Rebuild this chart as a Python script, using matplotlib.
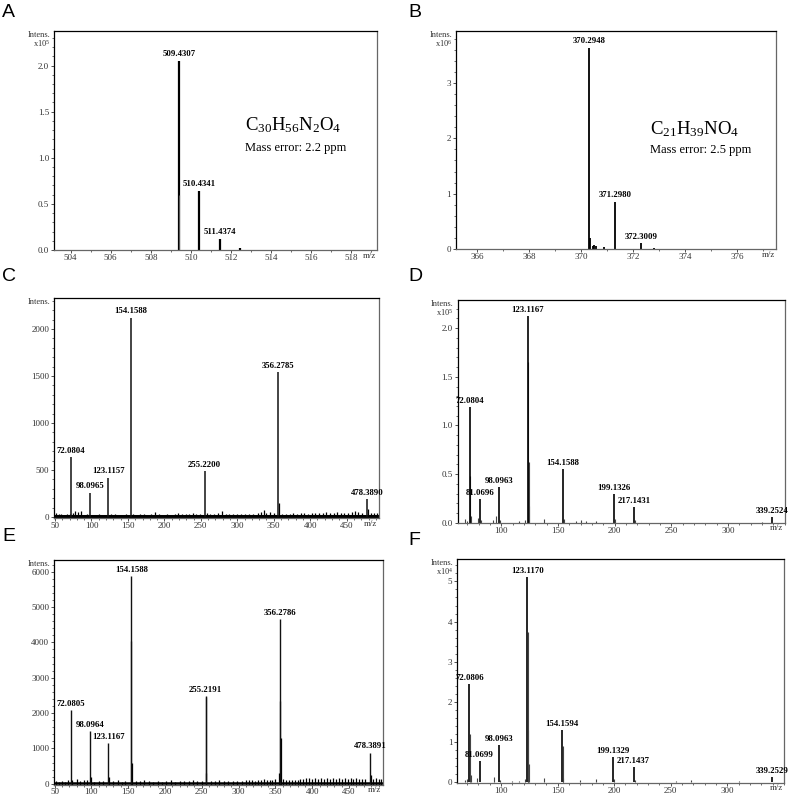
import numpy as np
import matplotlib
matplotlib.use("Agg")
from matplotlib import pyplot as plt
from matplotlib.ticker import MultipleLocator, FormatStrFormatter

plt.rcParams['font.family'] = ['Liberation Serif', 'DejaVu Serif']
plt.rcParams['mathtext.fontset'] = 'custom'
plt.rcParams['mathtext.rm'] = 'Liberation Serif'
plt.rcParams['mathtext.it'] = 'Liberation Serif:italic'
plt.rcParams['mathtext.bf'] = 'Liberation Serif:bold'

# ---- panel A : full MS, x10^5
a_mz = [509.4307, 509.40, 510.4341, 511.4374, 512.44]
a_int = [2.05, 0.60, 0.64, 0.12, 0.02]
a_lab = ["509.4307", "", "510.4341", "511.4374", ""]

# ---- panel B : full MS, x10^6
b_mz = [370.2948, 370.33, 370.45, 370.50, 370.58, 370.90, 371.2980, 372.3009, 372.80]
b_int = [3.64, 0.20, 0.06, 0.07, 0.05, 0.03, 0.85, 0.10, 0.01]
b_lab = ["370.2948", "", "", "", "", "", "371.2980", "372.3009", ""]

# ---- panel C : MS/MS
c_mz = [72.0804, 98.0965, 123.1157, 154.1588, 255.2200, 356.2785, 478.3890]
c_int = [640, 260, 420, 2120, 490, 1540, 190]
c_lab = ["72.0804", "98.0965", "123.1157", "154.1588", "255.2200", "356.2785", "478.3890"]
c_noise_mz = [52, 55, 58, 62, 66, 70, 75, 78, 82, 86, 90, 94, 102, 106, 110, 114, 118, 127,
              132, 137, 143, 148, 157, 162, 167, 172, 176, 181, 187, 192, 197, 204, 209, 214,
              219, 224, 229, 234, 239, 244, 249, 258, 263, 268, 273, 279, 284, 289, 294, 300,
              305, 310, 316, 322, 328, 332, 336, 340, 345, 350, 357.3, 362, 367, 372, 377, 382,
              387, 392, 397, 402, 407, 412, 417, 422, 427, 432, 437, 442, 447, 452, 457, 461,
              466, 471, 479.4, 483, 487, 491]
c_noise_int = [40, 30, 35, 25, 30, 35, 45, 60, 55, 65, 20, 30, 25, 20, 30, 25, 20, 35,
               30, 25, 20, 30, 35, 25, 30, 35, 25, 30, 55, 35, 25, 30, 25, 35,
               45, 30, 35, 30, 40, 35, 30, 40, 30, 35, 40, 60, 35, 30, 35, 30,
               35, 30, 35, 30, 40, 50, 75, 40, 55, 40, 150, 35, 30, 35, 40, 35,
               45, 40, 35, 45, 40, 45, 40, 50, 45, 40, 50, 45, 40, 45, 55, 60,
               50, 45, 90, 45, 40, 45]

# ---- panel D : MS/MS, x10^5
d_mz = [72.0804, 81.0696, 98.0963, 123.1167, 154.1588, 199.1326, 217.1431, 339.2524]
d_int = [1.19, 0.24, 0.364, 2.13, 0.55, 0.30, 0.16, 0.06]
d_lab = ["72.0804", "81.0696", "98.0963", "123.1167", "154.1588", "199.1326", "217.1431", "339.2524"]
d_minor_mz = [68, 70, 72.5, 73.5, 79, 82, 93, 95, 99, 116, 121, 123.5, 124.0, 124.6,
              138, 155, 166, 170, 175, 184, 200, 218, 330]
d_minor_int = [0.04, 0.02, 0.48, 0.07, 0.05, 0.03, 0.03, 0.07, 0.03, 0.02, 0.03, 1.65, 0.62, 0.17,
               0.04, 0.04, 0.02, 0.03, 0.02, 0.02, 0.04, 0.03, 0.01]

# ---- panel E : MS/MS
e_mz = [72.0805, 98.0964, 123.1167, 154.1588, 255.2191, 356.2786, 478.3891]
e_int = [2090, 1500, 1150, 5885, 2470, 4660, 885]
e_lab = ["72.0805", "98.0964", "123.1167", "154.1588", "255.2191", "356.2786", "478.3891"]
e_noise_mz = [52, 56, 60, 64, 68, 74, 80, 84, 90, 94, 99.1, 104, 110, 116, 124.1, 130, 136,
              142, 146, 154.5, 155.2, 160, 166, 172, 178, 184, 190, 196, 202, 208, 214, 220,
              226, 232, 238, 244, 250, 255.6, 256.2, 262, 268, 274, 280, 286, 292, 298, 304,
              310, 314, 318, 322, 326, 330, 334, 338, 342, 346, 350, 354.5, 356.7, 357.3,
              360, 364, 368, 372, 376, 380, 384, 388, 392, 396, 400, 404, 408, 412, 416, 420,
              424, 428, 432, 436, 440, 444, 448, 452, 456, 460, 464, 468, 472, 479.4, 482,
              486, 490, 494]
e_noise_int = [80, 60, 90, 50, 100, 120, 130, 80, 100, 120, 200, 60, 80, 90, 200, 70, 100,
               60, 80, 4050, 600, 70, 90, 100, 70, 60, 80, 60, 70, 100, 60, 80,
               90, 80, 100, 90, 70, 2450, 300, 80, 90, 100, 70, 80, 90, 70, 80,
               120, 110, 100, 90, 120, 100, 130, 110, 120, 100, 130, 300, 2350, 1300,
               130, 120, 110, 120, 110, 120, 130, 140, 150, 150, 140, 150, 140, 150, 140, 150,
               140, 150, 140, 150, 140, 150, 140, 150, 140, 150, 140, 130, 140, 250, 140,
               150, 140, 130]

# ---- panel F : MS/MS, x10^4
f_mz = [72.0806, 81.0699, 98.0963, 123.1170, 154.1594, 199.1329, 217.1437, 339.2529]
f_int = [2.44, 0.52, 0.94, 5.11, 1.31, 0.62, 0.38, 0.14]
f_lab = ["72.0806", "81.0699", "98.0963", "123.1170", "154.1594", "199.1329", "217.1437", "339.2529"]
f_minor_mz = [68, 70, 72.5, 73.5, 79, 94, 99, 110, 116, 121, 123.5, 124.0, 124.6, 138,
              154.5, 155, 170, 184, 200, 218, 255, 268, 310]
f_minor_int = [0.05, 0.08, 1.2, 0.18, 0.10, 0.12, 0.05, 0.03, 0.04, 0.08, 3.75, 1.3, 0.45, 0.10,
               0.9, 0.10, 0.05, 0.08, 0.08, 0.05, 0.03, 0.05, 0.03]

fig = plt.figure(figsize=(7.89, 7.95), dpi=100)
W, H = 789.0, 795.0


def add_ax(l, t, r, b):
    return fig.add_axes([l / W, 1 - b / H, (r - l) / W, (b - t) / H])


def style(ax, xlim, ylim, xmaj, xmin, ymaj, ymin, yfmt, mult=None):
    ax.set_xlim(*xlim)
    ax.set_ylim(*ylim)
    ax.xaxis.set_minor_locator(MultipleLocator(xmin))
    ax.yaxis.set_major_locator(MultipleLocator(ymaj))
    ax.yaxis.set_minor_locator(MultipleLocator(ymin))
    ax.yaxis.set_major_formatter(FormatStrFormatter(yfmt))
    ax.tick_params(which='major', length=2.5, width=0.6, labelsize=6.5, colors='#333333')
    ax.tick_params(which='minor', length=1.3, width=0.5, colors='#333333')
    ax.tick_params(axis='x', which='major', pad=0.3)
    ax.tick_params(axis='y', which='major', pad=1.0)
    ax.spines['top'].set_color('black')
    ax.spines['left'].set_color('black')
    ax.spines['right'].set_color('#666666')
    ax.spines['bottom'].set_color('#666666')
    for s in ax.spines.values():
        s.set_linewidth(0.9)
    # leave room at the right end for the m/z label
    lo, hi = xlim
    ticks = [t for t in np.arange(np.ceil(lo / xmaj) * xmaj, hi, xmaj) if t < hi - 0.06 * (hi - lo)]
    ax.set_xticks(ticks)
    ax.text(0.975, -0.008, "m/z", transform=ax.transAxes, ha='center', va='top',
            fontsize=6.5, color='#333333')
    txt = "Intens." if mult is None else "Intens.\nx10$^{%d}$" % mult
    ax.text(-0.012, 1.0, txt, transform=ax.transAxes, ha='right', va='top',
            fontsize=6, color='#333333', linespacing=0.85)


def label_peaks(ax, mz, inten, labs, dy):
    for m, h, s in zip(mz, inten, labs):
        if s:
            ax.text(m, h + dy, s, ha='center', va='bottom', fontsize=6.3,
                    fontweight='bold', clip_on=False)


# A
axA = add_ax(54, 31, 377, 250)
axA.vlines(a_mz[:1] + a_mz[2:], 0, a_int[:1] + a_int[2:], color='black', lw=1.6)
axA.vlines(a_mz[1:2], 0, a_int[1:2], color='#555555', lw=0.8)
style(axA, (503.17, 519.3), (0, 2.375), 2, 1, 0.5, 0.1, '%.1f', mult=5)
label_peaks(axA, a_mz, a_int, a_lab, 0.03)
axA.text(0.59, 0.57, "C$_{30}$H$_{56}$N$_{2}$O$_{4}$", transform=axA.transAxes,
         fontsize=13.5, va='center')
axA.text(0.59, 0.465, "Mass error: 2.2 ppm", transform=axA.transAxes, fontsize=9, va='center')

# B
axB = add_ax(456, 31, 776, 249)
axB.vlines(b_mz, 0, b_int, color='black', lw=1.3)
style(axB, (365.19, 377.5), (0, 3.94), 2, 1, 1, 0.2, '%d', mult=6)
label_peaks(axB, b_mz, b_int, b_lab, 0.05)
axB.text(0.606, 0.55, "C$_{21}$H$_{39}$NO$_{4}$", transform=axB.transAxes, fontsize=13.5, va='center')
axB.text(0.606, 0.455, "Mass error: 2.5 ppm", transform=axB.transAxes, fontsize=9, va='center')

# C
axC = add_ax(54, 298, 379, 518)
axC.vlines(c_noise_mz, 0, c_noise_int, color='black', lw=0.9)
axC.axhline(8, color='black', lw=2.2)
axC.vlines(c_mz, 0, c_int, color='#111111', lw=1.1)
style(axC, (48.6, 494.4), (-10, 2330), 50, 10, 500, 100, '%d')
label_peaks(axC, c_mz, c_int, c_lab, 25)

# D
axD = add_ax(457.5, 300, 785, 522.7)
axD.vlines(d_minor_mz, 0, d_minor_int, color='#444444', lw=0.8)
axD.vlines(d_mz, 0, d_int, color='black', lw=1.2)
style(axD, (61.3, 350.4), (0, 2.29), 50, 10, 0.5, 0.1, '%.1f', mult=5)
label_peaks(axD, d_mz, d_int, d_lab, 0.02)

# E
axE = add_ax(54, 560, 382.7, 784.5)
axE.vlines(e_noise_mz, -40, e_noise_int, color='black', lw=0.9)
axE.axhline(20, color='black', lw=1.8)
axE.vlines(e_mz, 0, e_int, color='#111111', lw=1.0)
style(axE, (49.3, 495.7), (-20, 6330), 50, 10, 1000, 200, '%d')
label_peaks(axE, e_mz, e_int, e_lab, 60)

# F
axF = add_ax(457.3, 559.3, 784.3, 782.7)
axF.vlines(f_minor_mz, 0, f_minor_int, color='#444444', lw=0.8)
axF.vlines(f_mz, 0, f_int, color='black', lw=1.2)
style(axF, (61.3, 350.4), (-0.01, 5.55), 50, 10, 1, 0.2, '%d', mult=4)
label_peaks(axF, f_mz, f_int, f_lab, 0.05)

# panel letters
for s, x, y in [("A", 2, 4), ("B", 408, 4), ("C", 2, 268), ("D", 408, 268),
                ("E", 2, 528), ("F", 408, 532)]:
    fig.text(x / W, 1 - y / H, s, fontsize=14, va='top', ha='left',
             family=['Liberation Sans', 'DejaVu Sans'])

fig.savefig("out.png", dpi=100)
